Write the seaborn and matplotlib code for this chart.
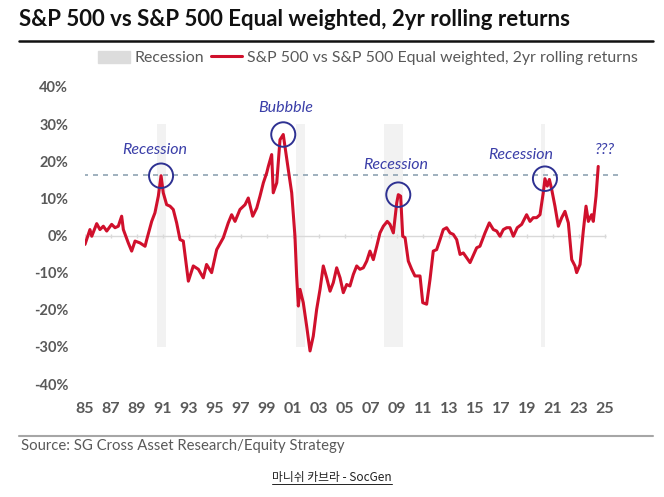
import matplotlib
matplotlib.use('Agg')
import matplotlib.pyplot as plt
import seaborn as sns
import pandas as pd
import numpy as np
from matplotlib.patches import Patch, Ellipse
from matplotlib.lines import Line2D

# S&P 500 minus S&P 500 Equal weighted, 2yr rolling return (%)
years = [1985.00, 1985.38, 1985.52, 1985.90, 1986.15, 1986.41, 1986.67, 1987.05, 1987.31, 1987.56,
         1987.82, 1987.95, 1988.33, 1988.59, 1988.85, 1989.23, 1989.62, 1989.75, 1990.13, 1990.38,
         1990.64, 1990.85, 1991.02, 1991.28, 1991.54, 1991.79, 1992.05, 1992.31, 1992.56, 1992.95,
         1993.33, 1993.72, 1994.10, 1994.35, 1994.74, 1995.13, 1995.64, 1996.02, 1996.28, 1996.54,
         1996.92, 1997.31, 1997.56, 1997.90, 1998.21, 1998.46, 1998.72, 1998.98, 1999.10, 1999.36,
         1999.48, 1999.75, 2000.00, 2000.25, 2000.38, 2000.64, 2000.90, 2001.15, 2001.28, 2001.41,
         2001.54, 2001.79, 2002.05, 2002.31, 2002.56, 2002.82, 2003.08, 2003.33, 2003.59, 2003.85,
         2004.10, 2004.36, 2004.62, 2004.87, 2005.13, 2005.38, 2005.64, 2005.90, 2006.15, 2006.41,
         2006.67, 2006.92, 2007.18, 2007.44, 2007.69, 2007.95, 2008.25, 2008.46, 2008.72, 2008.98,
         2009.10, 2009.28, 2009.44, 2009.62, 2009.87, 2010.13, 2010.38, 2010.77, 2010.98, 2011.28,
         2011.54, 2011.79, 2012.05, 2012.31, 2012.56, 2012.82, 2013.08, 2013.33, 2013.59, 2013.85,
         2014.10, 2014.62, 2015.13, 2015.38, 2015.77, 2016.10, 2016.41, 2016.67, 2016.92, 2017.18,
         2017.44, 2017.69, 2017.95, 2018.25, 2018.59, 2018.97, 2019.23, 2019.48, 2019.74, 2020.00,
         2020.25, 2020.38, 2020.56, 2020.72, 2020.90, 2021.15, 2021.41, 2021.67, 2021.92, 2022.18,
         2022.44, 2022.69, 2022.82, 2023.08, 2023.33, 2023.54, 2023.72, 2023.97, 2024.10, 2024.31,
         2024.48]
spread = [-2.4, 1.6, -0.2, 3.2, 1.6, 2.5, 1.2, 3.0, 2.1, 2.5,
          5.2, 1.6, -2.0, -4.2, -1.5, -2.0, -2.9, -1.1, 3.8, 6.1,
          10.6, 16.1, 11.5, 8.3, 7.9, 7.0, 3.4, -1.1, -1.5, -12.3,
          -8.2, -9.1, -11.4, -7.8, -10.0, -3.8, -0.6, 3.4, 5.6, 3.8,
          7.0, 8.3, 10.1, 5.2, 7.4, 10.6, 14.2, 16.9, 18.6, 21.8,
          11.5, 14.2, 25.8, 27.2, 24.0, 17.7, 11.5, -0.2, -10.9, -19.0,
          -14.5, -18.1, -24.4, -31.1, -27.1, -19.9, -14.5, -8.2, -11.4, -15.0,
          -12.7, -8.7, -11.4, -15.4, -13.2, -13.6, -10.5, -8.2, -9.1, -8.7,
          -6.9, -4.2, -6.5, -2.9, 0.7, 2.5, 3.8, 3.0, 0.7, 8.8,
          11.0, 10.6, -0.2, -0.6, -6.9, -9.1, -10.9, -10.9, -18.1, -18.5,
          -11.8, -4.2, -3.8, -1.1, 1.6, 2.1, 0.7, 0.3, -1.1, -5.1,
          -4.7, -7.3, -3.3, -2.9, 0.7, 3.4, 1.6, 1.2, -0.2, 1.6,
          2.1, 2.1, -0.2, 2.1, 3.0, 5.6, 3.8, 4.8, 4.8, 5.6,
          11.5, 15.3, 13.3, 15.1, 12.4, 7.9, 2.5, 4.8, 6.5, 3.4,
          -6.5, -8.2, -10.0, -7.8, 1.2, 7.9, 3.8, 5.6, 3.8, 10.6,
          18.6]

recession_start = [1990.55, 2001.25, 2008.0, 2020.1]
recession_end = [1991.25, 2001.9, 2009.45, 2020.35]

tick_years = list(range(1985, 2026, 2))
tick_labels = [f"{y % 100:02d}" for y in tick_years]
y_ticks = [-0.4, -0.3, -0.2, -0.1, 0.0, 0.1, 0.2, 0.3, 0.4]
y_labels = ['-40%', '-30%', '-20%', '-10%', '0%', '10%', '20%', '30%', '40%']

threshold = 0.164

note_text = ['Recession', 'Bubbble', 'Recession', 'Recession', '???']
note_x = [1990.4, 2000.45, 2008.9, 2018.5, 2025.0]
note_y = [0.231, 0.344, 0.191, 0.218, 0.231]
circled_years = [1990.85, 2000.25, 2009.1, 2020.6]

df = pd.DataFrame({'year': years, 'ret': np.array(spread) / 100})

sns.set_style('white')
plt.rcParams['font.family'] = ['Lato', 'DejaVu Sans']

red = '#d0102c'
grey_txt = '#595959'
band = '#f2f2f2'
navy = '#2e3192'
blue_txt = '#3a3ea8'

fig = plt.figure(figsize=(6.64, 4.97), dpi=100)
ax = fig.add_axes([85 / 664, 1 - 384 / 497, 533 / 664, 297 / 497])

for s, e in zip(recession_start, recession_end):
    ax.fill_between([s, e], -0.3, 0.3, color=band, lw=0, zorder=0)

ax.hlines(0, 1985, 2025.1, color='#d9d9d9', lw=1, zorder=1)
ax.vlines(tick_years, -0.007, 0.003, color='#d9d9d9', lw=1, zorder=1)
ax.hlines(threshold, 1984.85, 2026, color='#8fa3b3', lw=1.2, ls=(0, (3, 3)), zorder=2)

sns.lineplot(data=df, x='year', y='ret', color=red, lw=2.2, ax=ax, zorder=3)

# circled peaks
for yr in circled_years:
    win = df[(df['year'] > yr - 0.6) & (df['year'] < yr + 0.6)]
    pk = win.loc[win['ret'].idxmax()]
    ax.add_patch(Ellipse((pk['year'], pk['ret']), 1.85, 0.066, fill=False,
                         ec=navy, lw=1.4, zorder=4))

for t, x, y in zip(note_text, note_x, note_y):
    ax.text(x, y, t, color=blue_txt, style='italic', fontsize=11.5,
            ha='center', va='center', zorder=5)

ax.set_xlim(1985, 2026)
ax.set_ylim(-0.4, 0.4)
ax.set_yticks(y_ticks, y_labels)
ax.set_xticks(tick_years, tick_labels)
ax.tick_params(axis='both', length=0, labelsize=10.5, labelcolor=grey_txt)
ax.tick_params(axis='x', labelsize=11.5)
ax.tick_params(axis='y', pad=12)
ax.tick_params(axis='x', pad=13)
for lab in ax.get_xticklabels() + ax.get_yticklabels():
    lab.set_fontweight('bold')
for sp in ax.spines.values():
    sp.set_visible(False)
ax.set_xlabel('')
ax.set_ylabel('')

# title, rules and legend
fig.text(19 / 664, 1 - 19 / 497, 'S&P 500 vs S&P 500 Equal weighted, 2yr rolling returns',
         fontsize=16, fontweight='bold', color='#111111', va='center', ha='left')
fig.add_artist(Line2D([19 / 664, 653 / 664], [1 - 41 / 497, 1 - 41 / 497], color='#111111', lw=1.8))
fig.add_artist(Line2D([19 / 664, 653 / 664], [1 - 436 / 497, 1 - 436 / 497], color='#a6a6a6', lw=1.5))

handles = [Patch(color='#dcdcdc', label='Recession'),
           Line2D([], [], color=red, lw=2.2, label='S&P 500 vs S&P 500 Equal weighted, 2yr rolling returns')]
fig.legend(handles=handles, loc='center right', bbox_to_anchor=(638 / 664, 1 - 58 / 497), ncol=2,
           frameon=False, fontsize=11.4, labelcolor=grey_txt, handlelength=2.0, handleheight=0.8,
           handletextpad=0.3, columnspacing=0.4, borderpad=0, borderaxespad=0)

fig.text(21 / 664, 1 - 446 / 497, 'Source: SG Cross Asset Research/Equity Strategy',
         fontsize=10.7, color=grey_txt, va='center', ha='left')

cap = fig.text(0.5, 1 - 478 / 497, '마니쉬 카브라 - SocGen', fontsize=8.5, color='#222222',
               ha='center', va='center', family=['Noto Sans CJK KR', 'DejaVu Sans'])
fig.canvas.draw()
bb = cap.get_window_extent().transformed(fig.transFigure.inverted())
fig.add_artist(Line2D([bb.x0, bb.x1], [bb.y0 + 0.002, bb.y0 + 0.002], color='#222222', lw=0.7))

fig.savefig('out.png', dpi=100)
